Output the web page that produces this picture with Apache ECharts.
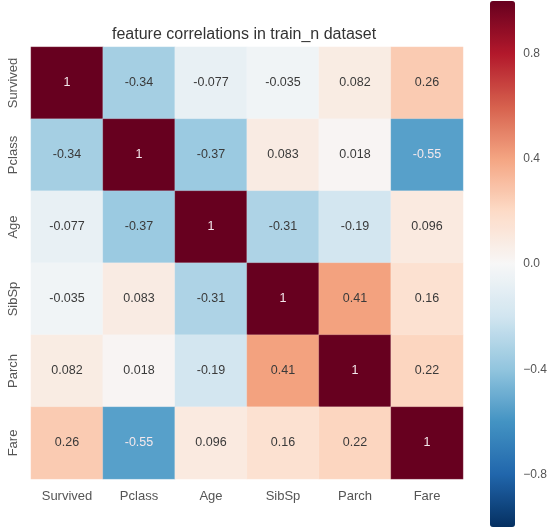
<!DOCTYPE html>
<html>
<head>
<meta charset="utf-8">
<script src="https://cdn.jsdelivr.net/npm/echarts@6/dist/echarts.min.js"></script>
<style>html,body{margin:0;padding:0;background:#fff;}#c{width:550px;height:529px;}</style>
</head>
<body>
<div id="c"></div>
<script>
const features = ['Survived', 'Pclass', 'Age', 'SibSp', 'Parch', 'Fare'];
const rowSurvived = [1, -0.34, -0.077, -0.035, 0.082, 0.26];
const rowPclass = [-0.34, 1, -0.37, 0.083, 0.018, -0.55];
const rowAge = [-0.077, -0.37, 1, -0.31, -0.19, 0.096];
const rowSibSp = [-0.035, 0.083, -0.31, 1, 0.41, 0.16];
const rowParch = [0.082, 0.018, -0.19, 0.41, 1, 0.22];
const rowFare = [0.26, -0.55, 0.096, 0.16, 0.22, 1];
const colorbarTicks = [-0.8, -0.4, 0.0, 0.4, 0.8];
const titleText = 'feature correlations in train_n dataset';

const rows = [rowSurvived, rowPclass, rowAge, rowSibSp, rowParch, rowFare];
const data = [];
rows.forEach((r, yi) => r.forEach((v, xi) => data.push([xi, yi, v])));

const FONT = 'Liberation Sans, Arial, sans-serif';

const chart = echarts.init(document.getElementById('c'));
chart.setOption({
  animation: false,
  backgroundColor: '#fff',
  title: {
    text: titleText, left: 112, top: 27, padding: 0,
    textStyle: { fontFamily: FONT, fontSize: 16, fontWeight: 'normal', color: '#333' }
  },
  grid: [
    { left: 31, top: 47, width: 432, height: 432 },
    { left: 490, top: 1, width: 25, height: 526 }
  ],
  xAxis: [
    { type: 'category', data: features, gridIndex: 0,
      axisLine: { show: false }, axisTick: { show: false }, splitLine: { show: false },
      axisLabel: { margin: 11, fontFamily: FONT, fontSize: 13, color: '#555' } },
    { type: 'category', data: [''], gridIndex: 1, show: false }
  ],
  yAxis: [
    { type: 'category', data: features, inverse: true, gridIndex: 0,
      axisLine: { show: false }, axisTick: { show: false }, splitLine: { show: false },
      axisLabel: { rotate: 90, margin: 11, fontFamily: FONT, fontSize: 13, color: '#555' } },
    { type: 'value', min: -1, max: 1, gridIndex: 1, position: 'right',
      axisLine: { show: false }, axisTick: { show: false }, splitLine: { show: false },
      axisLabel: { customValues: colorbarTicks, margin: 11, fontFamily: FONT, fontSize: 12, color: '#555',
        formatter: v => (v < 0 ? '\u2212' : '') + Math.abs(v).toFixed(1) } }
  ],
  visualMap: {
    type: 'continuous', min: -1, max: 1, seriesIndex: 0,
    calculable: false, orient: 'vertical',
    left: 490, top: 1, itemWidth: 25, itemHeight: 526, padding: 0,
    text: null, showLabel: false,
    inRange: { color: ['#053061', '#2166ac', '#4393c3', '#92c5de', '#d1e5f0', '#f7f7f7', '#fddbc7', '#f4a582', '#d6604d', '#b2182b', '#67001f'] }
  },
  series: [{
    type: 'heatmap', data: data, xAxisIndex: 0, yAxisIndex: 0,
    itemStyle: { borderColor: 'rgba(255,255,255,0.3)', borderWidth: 0.5 },
    label: { show: false },
    emphasis: { disabled: true }
  }, {
    type: 'custom', data: data, xAxisIndex: 0, yAxisIndex: 0, z: 5, silent: true,
    renderItem: (params, api) => {
      const v = api.value(2);
      const pt = api.coord([api.value(0), api.value(1)]);
      return {
        type: 'text',
        x: pt[0], y: pt[1],
        style: {
          text: String(v),
          fill: Math.abs(v) >= 0.5 ? '#f4e8ec' : '#3a3a3a',
          font: '12.5px ' + FONT,
          align: 'center', verticalAlign: 'middle'
        }
      };
    }
  }]
});
</script>
</body>
</html>
